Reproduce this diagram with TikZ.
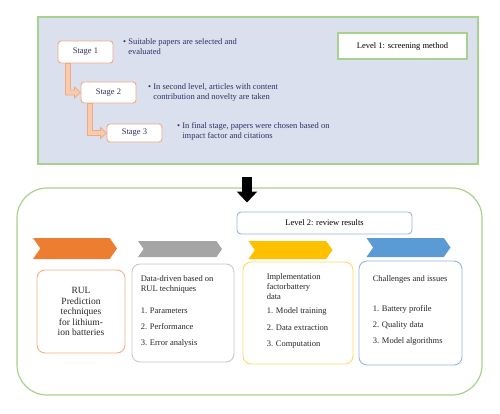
\documentclass[tikz,border=0pt]{standalone}
\usepackage{fontspec}
\setmainfont{Liberation Serif}
\usetikzlibrary{calc,shapes.symbols,arrows.meta}

\definecolor{panelblue}{RGB}{218,224,238}
\definecolor{leafgreen}{RGB}{169,209,142}
\definecolor{stageline}{RGB}{241,169,131}
\definecolor{stagefill}{RGB}{248,203,173}
\definecolor{inkblue}{RGB}{46,49,98}
\definecolor{chorange}{RGB}{237,125,49}
\definecolor{chgray}{RGB}{165,165,165}
\definecolor{chyellow}{RGB}{255,192,0}
\definecolor{chblue}{RGB}{91,155,213}
\definecolor{lineorange}{RGB}{244,177,131}
\definecolor{linegray}{RGB}{200,200,200}
\definecolor{lineyellow}{RGB}{255,217,102}
\definecolor{lineblue}{RGB}{150,180,225}

\tikzset{
  stagebox/.style={draw=stageline, fill=white, rounded corners=3pt, line width=0.9pt,
    minimum width=55, minimum height=20, inner sep=0pt, text=inkblue,
    font=\fontsize{8.5}{10}\selectfont},
  stagearrow/.style={draw=stageline, fill=stagefill, line width=0.7pt},
  bullettext/.style={anchor=west, align=left, inner sep=0pt, text=inkblue,
    font=\fontsize{8.5}{10}\selectfont},
  chevron/.style={signal, signal from=west, signal to=east, signal pointer angle=110,
    minimum width=84, minimum height=19, inner sep=0pt},
  resultbox/.style={draw, fill=white, rounded corners=8pt, line width=0.9pt, inner sep=0pt},
  resulttext/.style={anchor=north west, align=left, inner sep=0pt, text=black!85,
    font=\fontsize{8.5}{10}\selectfont}
}

\begin{document}
\begin{tikzpicture}[x=1pt,y=-1pt]
\useasboundingbox (0,0) rectangle (500,413);

% level 1
\node[draw=leafgreen, fill=panelblue, line width=1.2pt, minimum width=440, minimum height=147, inner sep=0pt] (screen) at (258,90.5) {};
\node[draw=leafgreen, fill=white, line width=1.2pt, minimum width=129, minimum height=26, inner sep=0pt,
  font=\fontsize{8.5}{10}\selectfont] (level1) at (402.5,46) {Level 1: screening method};

\node[stagebox, minimum height=22] (s1) at (85.5,52) {Stage 1};
\node[stagebox, minimum height=21] (s2) at (108.5,92.5) {Stage 2};
\node[stagebox, minimum height=18] (s3) at (134.5,133) {Stage 3};

\filldraw[stagearrow] ($(s1.south west)+(8,0)$) -- ($(s1.south west)+(13,0)$) |- ($(s2.west)+(-6,-2.5)$)
  -- ($(s2.west)+(-6,-5.5)$) -- (s2.west) -- ($(s2.west)+(-6,5.5)$) -- ($(s2.west)+(-6,2.5)$)
  -| ($(s1.south west)+(8,0)$) -- cycle;
\filldraw[stagearrow] ($(s2.south west)+(7,0)$) -- ($(s2.south west)+(12,0)$) |- ($(s3.west)+(-6,-2.5)$)
  -- ($(s3.west)+(-6,-5.5)$) -- (s3.west) -- ($(s3.west)+(-6,5.5)$) -- ($(s3.west)+(-6,2.5)$)
  -| ($(s2.south west)+(7,0)$) -- cycle;

\node[bullettext] (t1) at (123,47) {\textbullet\ Suitable papers are selected and\\\phantom{\textbullet\ }evaluated};
\node[bullettext] (t2) at (148,92.5) {\textbullet\ In second level, articles with content\\\phantom{\textbullet\ }contribution and novelty are taken};
\node[bullettext] (t3) at (177,131.5) {\textbullet\ In final stage, papers were chosen based on\\\phantom{\textbullet\ }impact factor and citations};

% level 2
\node[draw=leafgreen, line width=1.2pt, rounded corners=30pt, minimum width=465, minimum height=207, inner sep=0pt] (review) at (249.5,291.5) {};
\coordinate (from) at (247,177);
\coordinate (into) at (247,202.5);
\draw[line width=10pt, -{Triangle[width=20pt,length=11pt]}] (from) -- (into);

\node[draw=lineblue, fill=white, rounded corners=4pt, line width=0.9pt, minimum width=175, minimum height=22, inner sep=0pt,
  font=\fontsize{8.5}{10}\selectfont] (level2) at (324.5,223) {Level 2: review results};

\node[chevron, fill=chorange, minimum height=21] (c1) at (75,248.5) {};
\node[chevron, fill=chgray, minimum height=16] (c2) at (180,249) {};
\node[chevron, fill=chyellow, minimum height=18] (c3) at (290.5,250) {};
\node[chevron, fill=chblue] (c4) at (408.5,247.5) {};

\node[resultbox, draw=lineorange, minimum width=88, minimum height=83] (b1) at (81,311.5) {};
\node[resultbox, draw=linegray, minimum width=102, minimum height=98] (b2) at (183,313) {};
\node[resultbox, draw=lineyellow, minimum width=110, minimum height=102] (b3) at (298,313) {};
\node[resultbox, draw=lineblue, minimum width=103, minimum height=104] (b4) at (410.5,313) {};

\node[align=center, inner sep=0pt, text=black!85, font=\fontsize{9.5}{10.5}\selectfont] (r1) at (b1.center)
  {RUL\\Prediction\\techniques\\for lithium-\\ion batteries};
\node[resulttext] (r2) at ($(b2.north west)+(9,12)$)
  {Data-driven based on\\RUL techniques\\[12pt]1. Parameters\\[6pt]2. Performance\\[6pt]3. Error analysis};
\node[resulttext] (r3) at ($(b3.north west)+(24,12)$)
  {Implementation\\factorbattery\\data\\[4pt]1. Model training\\[7pt]2. Data extraction\\[6pt]3. Computation};
\node[resulttext] (r4) at ($(b4.north west)+(14,15)$)
  {Challenges and issues\\[20pt]1. Battery profile\\[6pt]2. Quality data\\[6pt]3. Model algorithms};
\end{tikzpicture}
\end{document}
